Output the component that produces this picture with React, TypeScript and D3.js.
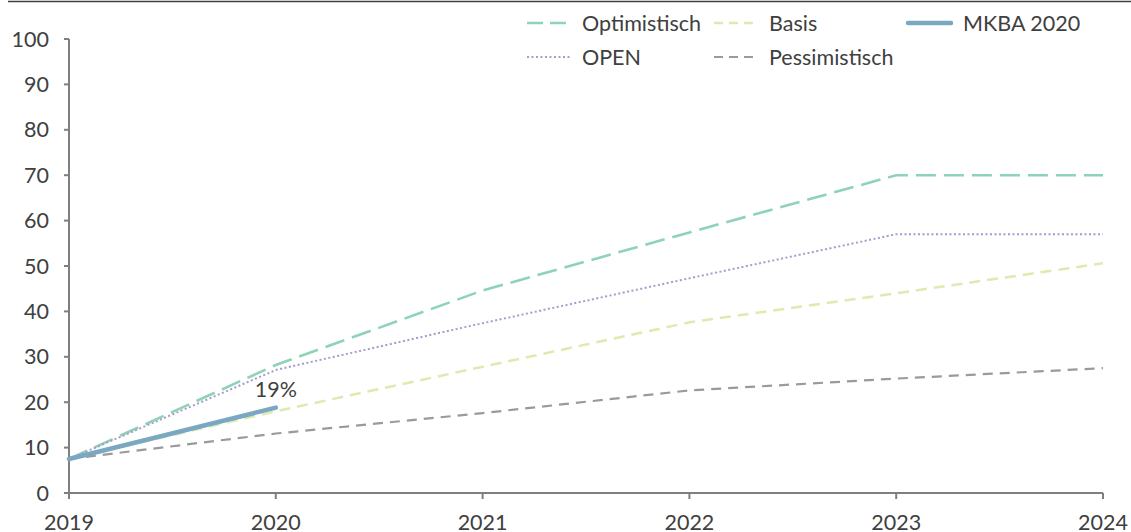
// @ts-nocheck
/* eslint-disable */
import * as d3 from "d3";
import React from "react";

const years = [2019, 2020, 2021, 2022, 2023, 2024];
const optimistisch = [7.5, 28.2, 44.6, 57.4, 70, 70];
const open = [7.5, 27.1, 37.4, 47.3, 57, 57];
const basis = [7.5, 18, 27.8, 37.6, 44, 50.6];
const pessimistisch = [7.5, 13.1, 17.6, 22.6, 25.2, 27.5];
const mkbaYears = [2019, 2020];
const mkba = [7.5, 18.8];
const yTicks = [0, 10, 20, 30, 40, 50, 60, 70, 80, 90, 100];

const series = [
  { name: "Optimistisch", values: optimistisch, color: "#8fd3b7", width: 2.6, dash: "20 8" },
  { name: "OPEN", values: open, color: "#a89bcc", width: 2, dash: "2 2.5" },
  { name: "Basis", values: basis, color: "#dcebb0", width: 2.5, dash: "11 7" },
  { name: "Pessimistisch", values: pessimistisch, color: "#9a9a9a", width: 2.2, dash: "10 7" },
];

const legend = [
  { name: "Optimistisch", color: "#8fd3b7", width: 2.6, dash: "16 7", col: 0, row: 0 },
  { name: "Basis", color: "#dcebb0", width: 2.5, dash: "9 6", col: 1, row: 0 },
  { name: "MKBA 2020", color: "#7aa7c1", width: 4.5, dash: null, col: 2, row: 0 },
  { name: "OPEN", color: "#a89bcc", width: 2, dash: "2 2.5", col: 0, row: 1 },
  { name: "Pessimistisch", color: "#9a9a9a", width: 2.2, dash: "9 6", col: 1, row: 1 },
];
const legendTextX = [582, 769, 963];

export default function App() {
  const width = 1131;
  const height = 532;
  const x = d3.scaleLinear([2019, 2024], [69, 1103]);
  const y = d3.scaleLinear([0, 100], [493, 39]);
  const line = d3.line().x((d) => x(d[0])).y((d) => y(d[1]));
  const txt = "#404040";
  const axisCol = "#7f7f7f";
  const font = "Lato, 'Open Sans', sans-serif";
  const fs = 21.5;

  return (
    <svg width={width} height={height} style={{ position: "absolute", left: 0, top: 0 }} fontFamily={font}>
      <rect width={width} height={height} fill="white" />
      <line x1={8} x2={width} y1={1.5} y2={1.5} stroke="#404040" strokeWidth={1.5} />
      {/* y axis */}
      <line x1={x(2019)} x2={x(2019)} y1={y(100)} y2={y(0)} stroke={axisCol} strokeWidth={2} />
      {yTicks.map((t) => (
        <g key={t}>
          <line x1={x(2019) - 5} x2={x(2019)} y1={y(t)} y2={y(t)} stroke={axisCol} strokeWidth={2} />
          <text x={x(2019) - 20} y={y(t)} dy="0.35em" textAnchor="end" fontSize={fs} fill={txt}>
            {t}
          </text>
        </g>
      ))}
      {/* x axis */}
      <line x1={x(2019)} x2={x(2024)} y1={y(0)} y2={y(0)} stroke={axisCol} strokeWidth={2} />
      {years.map((t) => (
        <g key={t}>
          <line x1={x(t)} x2={x(t)} y1={y(0)} y2={y(0) + 6} stroke={axisCol} strokeWidth={2} />
          <text x={x(t)} y={y(0) + 37} textAnchor="middle" fontSize={fs} fill={txt}>
            {t}
          </text>
        </g>
      ))}
      {series.map((s) => (
        <path
          key={s.name}
          d={line(years.map((yr, i) => [yr, s.values[i]]))}
          fill="none"
          stroke={s.color}
          strokeWidth={s.width}
          strokeDasharray={s.dash}
        />
      ))}
      <path
        d={line(mkbaYears.map((yr, i) => [yr, mkba[i]]))}
        fill="none"
        stroke="#7aa7c1"
        strokeWidth={4.5}
        strokeLinecap="round"
      />
      <text x={x(2020)} y={y(mkba[1]) - 11} textAnchor="middle" fontSize={fs} fill={txt}>
        19%
      </text>
      {legend.map((l) => {
        const tx = legendTextX[l.col];
        const ly = 23 + l.row * 34;
        return (
          <g key={l.name}>
            <line
              x1={tx - 55}
              x2={tx - 12}
              y1={ly}
              y2={ly}
              stroke={l.color}
              strokeWidth={l.width}
              strokeDasharray={l.dash || undefined}
              strokeLinecap={l.dash ? "butt" : "round"}
            />
            <text x={tx} y={ly} dy="0.35em" fontSize={fs} fill={txt}>
              {l.name}
            </text>
          </g>
        );
      })}
    </svg>
  );
}
